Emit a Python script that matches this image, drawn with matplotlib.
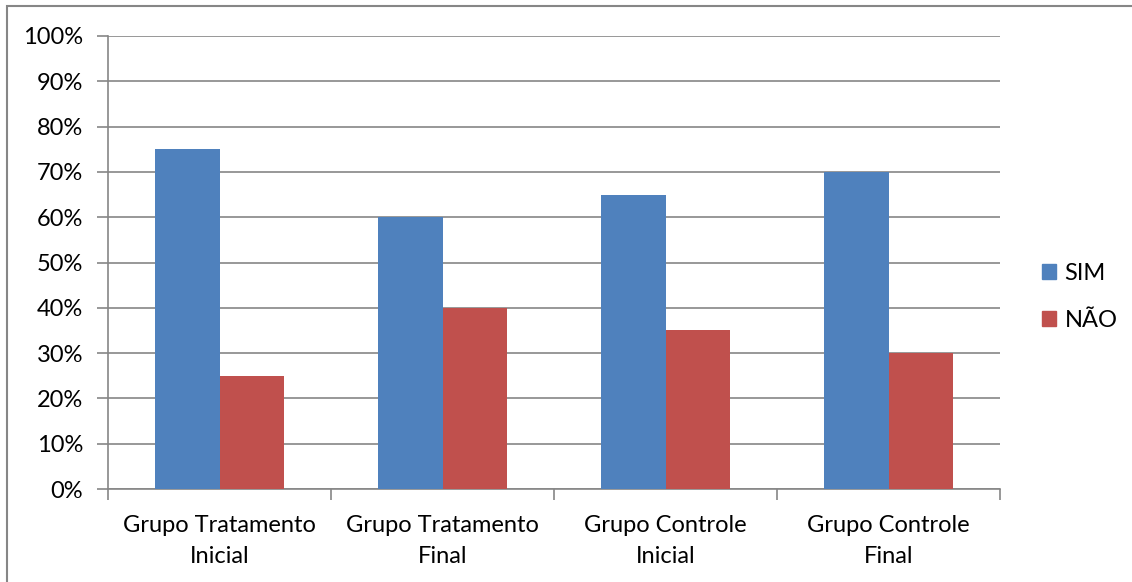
import matplotlib
matplotlib.use("Agg")
import matplotlib.pyplot as plt
import numpy as np
from matplotlib.patches import Rectangle, Patch

# Dados do gráfico
grupos = ["Grupo Tratamento\nInicial", "Grupo Tratamento\nFinal",
          "Grupo Controle\nInicial", "Grupo Controle\nFinal"]
sim = [75, 60, 65, 70]
nao = [25, 40, 35, 30]
series = ["SIM", "NÃO"]
cores = ["#4F81BD", "#C0504D"]
ticks_y = list(range(0, 101, 10))

plt.rcParams['font.family'] = ['Lato', 'DejaVu Sans']
cinza = "#868686"
fs = 17

fig = plt.figure(figsize=(11.32, 5.82), dpi=100)
ax = fig.add_axes([108 / 1132, 1 - 489 / 582, 892 / 1132, 453 / 582])

x = np.arange(len(grupos))
larg = 0.287
ax.bar(x - larg / 2, sim, larg, color=cores[0], zorder=3)
ax.bar(x + larg / 2, nao, larg, color=cores[1], zorder=3)

ax.set_xlim(-0.5, len(grupos) - 0.5)
ax.set_ylim(0, 100)
ax.set_yticks(ticks_y)
ax.set_yticklabels([f"{v}%" for v in ticks_y])
ax.yaxis.grid(True, color=cinza, linewidth=1.2, zorder=0)

# marcas do eixo x nas divisões entre categorias
ax.set_xticks(np.arange(-0.5, len(grupos), 1.0))
ax.set_xticklabels([])
ax.set_xticks(x, minor=True)
ax.set_xticklabels(grupos, minor=True, fontsize=fs, linespacing=1.55)
ax.tick_params(axis='x', which='minor', length=0, pad=19)
ax.tick_params(axis='x', which='major', length=8, color=cinza, width=1.2)
ax.tick_params(axis='y', length=8, color=cinza, width=1.2, pad=10, labelsize=fs)

for s in ["top", "right"]:
    ax.spines[s].set_visible(False)
for s in ["left", "bottom"]:
    ax.spines[s].set_color(cinza)
    ax.spines[s].set_linewidth(1.2)

# legenda à direita
handles = [Patch(color=c, label=l) for c, l in zip(cores, series)]
fig.legend(handles=handles, loc="center left", bbox_to_anchor=(1042 / 1132, 1 - 297 / 582),
           frameon=False, fontsize=fs, handlelength=0.6, handleheight=0.6,
           handletextpad=0.35, labelspacing=1.1, borderpad=0, borderaxespad=0)

# moldura externa do gráfico
fig.patches.append(Rectangle((7 / 1132, -0.1), 1.2, 1 - 6 / 582 + 0.1, transform=fig.transFigure,
                             fill=False, edgecolor=cinza, linewidth=1.5))

fig.savefig("out.png", dpi=100)
